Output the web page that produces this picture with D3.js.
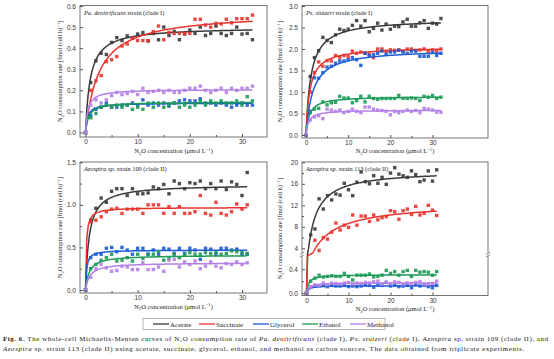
<!DOCTYPE html>
<html>
<head>
<meta charset="utf-8">
<script src="https://cdn.jsdelivr.net/npm/d3@7"></script>
<style>
  body { margin: 0; background: #fff; }
  svg { display: block; }
  .tick text { font-family: "Liberation Sans", Arial, sans-serif; font-size: 6.5px; fill: #333; }
  .tick line { stroke: #555; }
</style>
</head>
<body>
<div id="chart"></div>
<script>
//==============================================================================
// DATA
//==============================================================================

var seriesNames  = ["Acetate", "Succinate", "Glycerol", "Ethanol", "Methanol"];
var seriesColors = ["#3a3a3a", "#e8342f", "#1d5cd4", "#1c9a58", "#b47fe6"];

// N2O concentrations (umol/L) of the measurements
var concLong  = [0,1,2,3,4,5,6,7,8,9,10,11,12,13,14,15,16,17,18,19,20,21,22,23,24,25,26,27,28,29,30,31,32];
var concShort = [0,1,2,3,4,5,6,7,8,9,10,11,12,13,14,15,16,17,18,19,20,21,22,23,24,25,26,27,28,29,30,31];

// Pa. denitrificans (clade I)
var denAcetate   = [0,0.237,0.34,0.376,0.37,0.427,0.45,0.436,0.458,0.447,0.467,0.474,0.434,0.47,0.44,0.5,0.46,0.48,0.44,0.467,0.486,0.47,0.5,0.46,0.47,0.505,0.47,0.46,0.47,0.5,0.467,0.47,0.44];
var denSuccinate = [0,0.2,0.245,0.27,0.336,0.345,0.36,0.41,0.42,0.447,0.436,0.436,0.436,0.478,0.505,0.44,0.475,0.47,0.47,0.47,0.47,0.537,0.537,0.51,0.5,0.518,0.515,0.537,0.52,0.54,0.54,0.54,0.557];
var denGlycerol  = [0,0.08,0.11,0.12,0.14,0.12,0.12,0.13,0.13,0.14,0.13,0.155,0.13,0.14,0.13,0.14,0.125,0.14,0.15,0.155,0.15,0.15,0.16,0.14,0.14,0.13,0.14,0.13,0.12,0.13,0.14,0.13,0.13];
var denEthanol   = [0,0.07,0.09,0.12,0.13,0.12,0.13,0.12,0.13,0.11,0.12,0.11,0.14,0.12,0.14,0.12,0.13,0.14,0.12,0.13,0.12,0.13,0.15,0.13,0.15,0.14,0.15,0.14,0.14,0.15,0.13,0.17,0.15];
var denMethanol  = [0,0.13,0.155,0.14,0.155,0.175,0.19,0.18,0.185,0.195,0.18,0.21,0.19,0.195,0.2,0.19,0.2,0.19,0.19,0.2,0.21,0.21,0.22,0.2,0.19,0.2,0.21,0.19,0.21,0.2,0.21,0.21,0.22];
var denVmax = [0.50, 0.57, 0.14, 0.145, 0.205];
var denKm   = [0.9, 2.6, 0.4, 0.6, 0.45];

// Ps. stutzeri (clade I)
var stuAcetate   = [0,1.36,1.8,1.96,2.27,2.2,2.15,2.33,2.46,2.43,2.46,2.55,2.66,2.53,2.66,2.4,2.48,2.6,2.44,2.58,2.46,2.53,2.52,2.63,2.69,2.53,2.53,2.61,2.66,2.48,2.6,2.58,2.71];
var stuSuccinate = [0,1.0,1.45,1.7,1.6,1.73,1.72,1.85,1.8,1.85,1.82,1.95,1.9,1.93,1.9,1.88,1.8,2.0,2.0,1.95,1.98,1.97,1.98,1.95,2.0,2.0,1.97,1.98,2.0,1.95,1.98,1.95,2.0];
var stuGlycerol  = [0,0.55,1.33,1.32,1.45,1.58,1.6,1.67,1.72,1.72,1.75,1.8,1.75,1.62,1.9,1.85,1.87,1.9,1.95,1.88,1.93,1.93,1.97,1.93,1.9,1.95,1.95,1.83,1.83,1.83,1.92,1.85,1.9];
var stuEthanol   = [0,0.52,0.6,0.62,0.77,0.7,0.75,0.76,0.9,0.86,0.86,0.75,0.8,0.9,0.77,0.9,0.85,0.83,0.85,0.85,0.85,0.85,0.92,0.85,0.85,0.86,0.85,0.8,0.9,0.88,0.92,0.85,0.88];
var stuMethanol  = [0,0.35,0.42,0.45,0.38,0.6,0.58,0.55,0.58,0.52,0.55,0.6,0.55,0.52,0.65,0.65,0.6,0.58,0.57,0.55,0.47,0.55,0.52,0.55,0.58,0.55,0.57,0.52,0.62,0.6,0.58,0.53,0.53];
var stuVmax = [2.7, 2.05, 2.0, 0.9, 0.58];
var stuKm   = [1.15, 0.9, 1.6, 0.8, 0.6];

// Azospira sp. strain 109 (clade II)
var a109Acetate   = [0,0.82,0.96,1.08,1.03,1.16,1.19,1.19,1.11,1.19,1.13,1.13,1.14,1.21,1.19,1.24,1.13,1.28,1.25,1.19,1.26,1.25,1.28,1.19,1.25,1.19,1.28,1.18,1.27,1.24,1.11,1.38];
var a109Succinate = [0,0.8,0.82,0.86,0.92,0.95,0.96,0.9,0.95,0.95,0.95,0.9,1.0,1.0,1.0,0.9,0.98,0.9,0.98,0.9,0.9,0.92,1.11,0.9,0.88,1.03,0.9,0.88,0.92,1.01,0.95,1.0];
var a109Glycerol  = [0,0.38,0.42,0.42,0.49,0.5,0.45,0.5,0.47,0.42,0.49,0.49,0.42,0.47,0.42,0.49,0.48,0.43,0.49,0.43,0.49,0.47,0.36,0.49,0.48,0.42,0.49,0.49,0.47,0.48,0.42,0.42];
var a109Ethanol   = [0,0.25,0.3,0.35,0.38,0.42,0.34,0.35,0.38,0.34,0.42,0.37,0.42,0.42,0.45,0.35,0.37,0.42,0.38,0.42,0.44,0.42,0.42,0.44,0.43,0.44,0.42,0.43,0.46,0.45,0.44,0.43];
var a109Methanol  = [0,0.15,0.25,0.3,0.26,0.22,0.23,0.28,0.27,0.24,0.24,0.32,0.24,0.24,0.27,0.22,0.35,0.36,0.27,0.33,0.3,0.34,0.25,0.28,0.33,0.28,0.26,0.31,0.3,0.33,0.3,0.32];
var a109Vmax = [1.24, 0.97, 0.47, 0.41, 0.32];
var a109Km   = [0.7, 0.15, 0.2, 0.7, 0.8];

// Azospira sp. strain 113 (clade II)
var a113Acetate   = [0,6.5,7.6,13.2,11.3,13.8,13.0,14.1,13.9,16.1,14.9,13.8,16.3,18.2,16.4,16.0,17.5,16.1,17.2,15.9,18.0,19.0,17.8,17.5,17.2,18.4,17.7,16.4,16.7,18.4,16.5,18.6];
var a113Succinate = [0,null,5.5,3.6,6.0,5.7,7.0,8.7,7.4,8.3,7.9,10.2,8.3,10.0,10.0,9.0,10.2,9.3,9.7,9.9,11.0,10.8,9.4,11.0,11.3,10.3,11.8,10.2,10.5,12.0,11.1,10.1];
var a113Glycerol  = [0,0.1,0.12,0.12,0.13,0.11,0.13,0.12,0.12,0.13,0.11,0.12,0.11,0.12,0.14,0.13,0.1,0.14,0.13,0.18,0.12,0.13,0.11,0.12,0.13,0.09,0.14,0.12,0.13,0.11,0.09,0.13];
var a113Ethanol   = [0,0.2,0.25,0.3,0.27,0.28,0.29,0.28,0.28,0.33,0.28,0.22,0.3,0.3,0.3,0.32,0.27,0.28,0.3,0.38,0.33,0.36,0.3,0.36,0.38,0.28,0.38,0.35,0.36,0.35,0.3,0.36];
var a113Methanol  = [0,0.1,0.14,0.12,0.17,0.14,0.17,0.16,0.15,0.17,0.18,0.15,0.17,0.16,0.18,0.17,0.19,0.2,0.15,0.18,0.16,0.19,0.18,0.15,0.17,0.16,0.18,0.19,0.14,0.15,0.16,0.2];
var a113Vmax = [18.5, 12.5, 0.125, 0.31, 0.175];
var a113Km   = [1.8, 4.5, 0.5, 0.5, 0.6];

//==============================================================================
// LAYOUT
//==============================================================================

var W = 554, H = 359;
var serif = "'Liberation Serif', 'Times New Roman', serif";

var svg = d3.select("#chart").append("svg")
  .attr("width", W).attr("height", H)
  .style("background", "#fff");

var panels = [
  { frame: [80, 5.5, 267, 137], xRange: [85.5, 242], conc: concLong,
    title: [["Pa. denitrificans", true], [" strain (clade I)", false]],
    values: [denAcetate, denSuccinate, denGlycerol, denEthanol, denMethanol],
    vmax: denVmax, km: denKm,
    yParts: [{ domain: [0, 0.6], range: [132.5, 6], ticks: d3.range(0, 0.61, 0.1), minor: [], fmt: ".1f" }],
    xLabelY: 153, yLabelX: 62 },
  { frame: [302, 5.5, 488, 138], xRange: [306, 432.5], conc: concLong,
    title: [["Ps. stutzeri", true], [" strain (clade I)", false]],
    values: [stuAcetate, stuSuccinate, stuGlycerol, stuEthanol, stuMethanol],
    vmax: stuVmax, km: stuKm,
    yParts: [{ domain: [0, 3], range: [135, 6], ticks: d3.range(0, 3.01, 0.5), minor: [], fmt: ".1f" }],
    xLabelY: 153, yLabelX: 282 },
  { frame: [80, 162, 267, 293], xRange: [85.5, 242], conc: concShort,
    title: [["Azospira sp.", true], [" strain 109 (clade II)", false]],
    values: [a109Acetate, a109Succinate, a109Glycerol, a109Ethanol, a109Methanol],
    vmax: a109Vmax, km: a109Km,
    yParts: [{ domain: [0, 1.5], range: [290, 162.3], ticks: [0, 0.5, 1.0, 1.5], minor: [0.25, 0.75, 1.25], fmt: ".1f" }],
    xLabelY: 308.5, yLabelX: 62 },
  { frame: [302, 162, 488, 295.5], xRange: [306.5, 432.5], conc: concShort,
    title: [["Azospira sp.", true], [" strain 113 (clade II)", false]],
    values: [a113Acetate, a113Succinate, a113Glycerol, a113Ethanol, a113Methanol],
    vmax: a113Vmax, km: a113Km,
    yParts: [
      { domain: [0, 0.4], range: [293.2, 269.2], ticks: [0, 0.4], minor: [0.2], fmt: ".1f", lim: [-1, 0.617] },
      { domain: [4, 20], range: [248.3, 162.3], ticks: [4, 8, 12, 16, 20], minor: [6, 10, 14, 18], fmt: "d", lim: [3.13, 99] }
    ],
    breakY: 254.5,
    xLabelY: 311, yLabelX: 282 }
];

panels.forEach(drawPanel);
drawLegend();
drawCaption();

//==============================================================================
// PANEL
//==============================================================================

function drawPanel(p) {
  var f = p.frame;
  var g = svg.append("g");

  var x = d3.scaleLinear().domain([0, 30]).range(p.xRange);
  var parts = p.yParts.map(function(part) {
    return d3.scaleLinear().domain(part.domain).range(part.range);
  });

  // y mapping; with a broken axis, values in the gap are interpolated across it
  function y(v) {
    if (parts.length === 1) return parts[0](v);
    var lo = p.yParts[0].lim[1], hi = p.yParts[1].lim[0];
    if (v <= lo) return parts[0](v);
    if (v >= hi) return parts[1](v);
    var t = (v - lo) / (hi - lo);
    return parts[0](lo) + t * (parts[1](hi) - parts[0](lo));
  }

  // clip to the frame
  var clipId = "clip" + Math.round(f[0]) + "_" + Math.round(f[1]);
  g.append("clipPath").attr("id", clipId)
    .append("rect").attr("x", f[0]).attr("y", f[1])
    .attr("width", f[2] - f[0]).attr("height", f[3] - f[1]);

  var plot = g.append("g").attr("clip-path", "url(#" + clipId + ")");

  p.values.forEach(function(vals, s) {
    var color = seriesColors[s];
    var pts = p.conc.map(function(c, i) { return [c, vals[i]]; })
      .filter(function(d) { return d[1] !== null && d[1] !== undefined; });

    plot.selectAll(null).data(pts).enter().append("rect")
      .attr("x", function(d) { return x(d[0]) - 1.7; })
      .attr("y", function(d) { return y(d[1]) - 1.7; })
      .attr("width", 3.4).attr("height", 3.4)
      .attr("fill", color).attr("opacity", 0.9);

    var xMax = p.conc[p.conc.length - 1];
    var curve = d3.range(0, xMax + 0.001, 0.25).map(function(c) {
      return [c, p.vmax[s] * c / (p.km[s] + c)];
    });
    plot.append("path").datum(curve)
      .attr("fill", "none").attr("stroke", color).attr("stroke-width", 1.5)
      .attr("d", d3.line().x(function(d) { return x(d[0]); }).y(function(d) { return y(d[1]); }));
  });

  // frame
  g.append("rect").attr("x", f[0]).attr("y", f[1])
    .attr("width", f[2] - f[0]).attr("height", f[3] - f[1])
    .attr("fill", "none").attr("stroke", "#666").attr("stroke-width", 0.9);

  // x axis (ticks point inward)
  var xAxis = g.append("g").attr("transform", "translate(0," + f[3] + ")")
    .call(d3.axisBottom(x).tickValues([0, 10, 20, 30]).tickSize(-3).tickPadding(2.5).tickFormat(d3.format("d")));
  xAxis.select(".domain").remove();
  var xMinor = g.append("g").attr("transform", "translate(0," + f[3] + ")")
    .call(d3.axisBottom(x).tickValues([5, 15, 25]).tickSize(-2).tickFormat(""));
  xMinor.select(".domain").remove();

  // y axis parts
  p.yParts.forEach(function(part, k) {
    var ax = g.append("g").attr("transform", "translate(" + f[0] + ",0)")
      .call(d3.axisLeft(parts[k]).tickValues(part.ticks).tickSize(-3).tickPadding(4).tickFormat(d3.format(part.fmt)));
    ax.select(".domain").remove();
    if (part.minor.length) {
      var mn = g.append("g").attr("transform", "translate(" + f[0] + ",0)")
        .call(d3.axisLeft(parts[k]).tickValues(part.minor).tickSize(-2).tickFormat(""));
      mn.select(".domain").remove();
    }
  });

  // axis break marks
  if (p.breakY) {
    [f[0], f[2]].forEach(function(bx) {
      g.append("rect").attr("x", bx - 2).attr("y", p.breakY - 1.2)
        .attr("width", 4).attr("height", 2.4).attr("fill", "#fff");
      [-1.2, 1.2].forEach(function(dy) {
        g.append("line")
          .attr("x1", bx - 2.2).attr("x2", bx + 2.2)
          .attr("y1", p.breakY + dy + 1.2).attr("y2", p.breakY + dy - 1.2)
          .attr("stroke", "#666").attr("stroke-width", 0.7);
      });
    });
  }

  // panel title
  var t = g.append("text").attr("x", f[0] + 4).attr("y", f[1] + 9)
    .attr("font-family", serif).attr("font-size", 6.3).attr("fill", "#222");
  p.title.forEach(function(part) {
    t.append("tspan").attr("font-style", part[1] ? "italic" : "normal").text(part[0]);
  });

  // x label
  var xl = g.append("text").attr("x", (f[0] + f[2]) / 2).attr("y", p.xLabelY)
    .attr("text-anchor", "middle").attr("font-family", serif)
    .attr("font-size", 6.5).attr("fill", "#222");
  xl.append("tspan").text("N");
  xl.append("tspan").attr("font-size", 4.5).attr("dy", 1.5).text("2");
  xl.append("tspan").attr("dy", -1.5).text("O concentration (\u03bcmol L");
  xl.append("tspan").attr("font-size", 4.5).attr("dy", -2.5).text("\u22121");
  xl.append("tspan").attr("dy", 2.5).text(")");

  // y label
  var yl = g.append("text")
    .attr("transform", "translate(" + p.yLabelX + "," + ((f[1] + f[3]) / 2) + ") rotate(-90)")
    .attr("text-anchor", "middle").attr("font-family", serif)
    .attr("font-size", 6.5).attr("fill", "#222");
  yl.append("tspan").text("N");
  yl.append("tspan").attr("font-size", 4.5).attr("dy", 1.5).text("2");
  yl.append("tspan").attr("dy", -1.5).text("O consumption rate [fmol (cell h)");
  yl.append("tspan").attr("font-size", 4.5).attr("dy", -2.5).text("\u22121");
  yl.append("tspan").attr("dy", 2.5).text("]");
}

//==============================================================================
// LEGEND
//==============================================================================

function drawLegend() {
  var lg = svg.append("g");
  lg.append("rect").attr("x", 143).attr("y", 318.5).attr("width", 242).attr("height", 11)
    .attr("fill", "#fff").attr("stroke", "#999").attr("stroke-width", 0.7);
  var starts = [153, 199, 253, 302, 350];
  seriesNames.forEach(function(name, i) {
    lg.append("line").attr("x1", starts[i]).attr("x2", starts[i] + 16)
      .attr("y1", 324).attr("y2", 324)
      .attr("stroke", seriesColors[i]).attr("stroke-width", 1.3);
    lg.append("text").attr("x", starts[i] + 17).attr("y", 326.5)
      .attr("font-family", serif).attr("font-size", 7).attr("fill", "#222")
      .text(name);
  });
}

//==============================================================================
// CAPTION
//==============================================================================

function drawCaption() {
  var cap = svg.append("g").attr("font-family", serif).attr("font-size", 7).attr("fill", "#222");
  var l1 = cap.append("text").attr("x", 3).attr("y", 341)
    .attr("textLength", 545).attr("lengthAdjust", "spacing");
  l1.append("tspan").attr("font-weight", "bold").text("Fig. 6.");
  l1.append("tspan").text(" The whole-cell Michaelis-Menten curves of N\u2082O consumption rate of ");
  l1.append("tspan").attr("font-style", "italic").text("Pa. denitrificans");
  l1.append("tspan").text(" (clade I), ");
  l1.append("tspan").attr("font-style", "italic").text("Ps. stutzeri");
  l1.append("tspan").text(" (clade I), ");
  l1.append("tspan").attr("font-style", "italic").text("Azospira");
  l1.append("tspan").text(" sp. strain 109 (clade II), and");

  var l2 = cap.append("text").attr("x", 3).attr("y", 351)
    .attr("textLength", 521).attr("lengthAdjust", "spacing");
  l2.append("tspan").attr("font-style", "italic").text("Azospira");
  l2.append("tspan").text(" sp. strain 113 (clade II) using acetate, succinate, glycerol, ethanol, and methanol as carbon sources. The data obtained from triplicate experiments.");
}
</script>
</body>
</html>
